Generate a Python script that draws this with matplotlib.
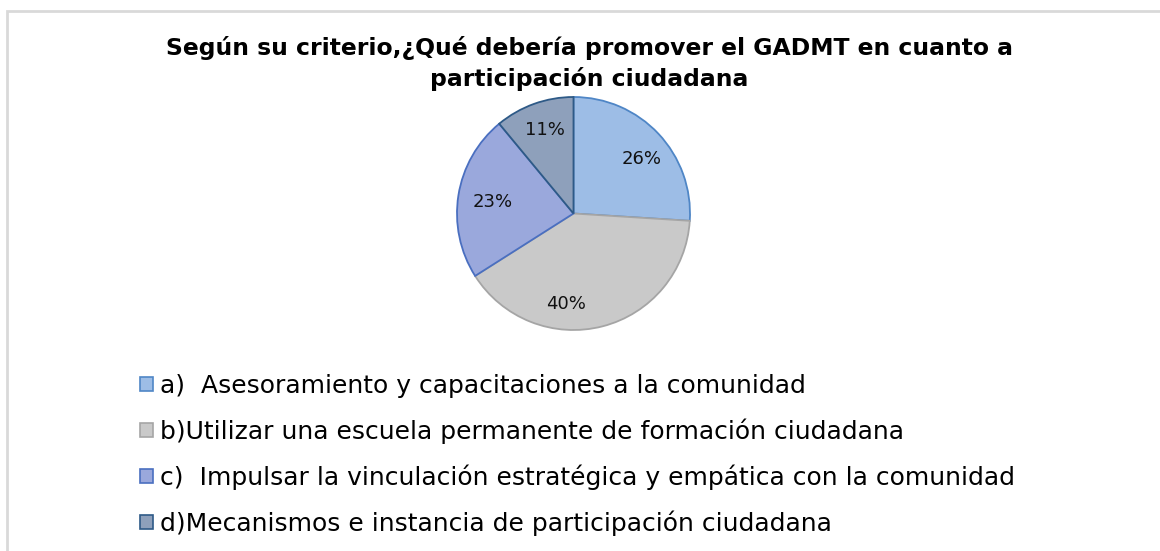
import matplotlib
matplotlib.use("Agg")
import matplotlib.pyplot as plt
from matplotlib.patches import Rectangle

titulo = "Según su criterio,¿Qué debería promover el GADMT en cuanto a\nparticipación ciudadana"
etiquetas = ["a)  Asesoramiento y capacitaciones a la comunidad",
             "b)Utilizar una escuela permanente de formación ciudadana",
             "c)  Impulsar la vinculación estratégica y empática con la comunidad",
             "d)Mecanismos e instancia de participación ciudadana"]
valores = [26, 40, 23, 11]
colores = ["#9dbde6", "#c9c9c9", "#9aa8dc", "#8ea0bb"]
bordes = ["#4f86c6", "#a5a5a5", "#4a6fc0", "#2e5a87"]

fig = plt.figure(figsize=(11.6, 5.51), dpi=100)

# marco gris del grafico
fig.patches.append(Rectangle((6.5 / 1160, -0.1), 1.2, (551 - 10.5) / 551 + 0.1,
                             transform=fig.transFigure, fill=False,
                             edgecolor="#d9d9d9", linewidth=2))

fig.text(589 / 1160, 1 - 63.5 / 551, titulo, ha="center", va="center", fontsize=16.9,
         fontweight="bold", linespacing=1.42)

ax = fig.add_axes([457 / 1160, (551 - 330) / 551, 233 / 1160, 233 / 551])
wedges, textos = ax.pie(valores, colors=colores, startangle=90, counterclock=False,
                        labels=None, wedgeprops=dict(linewidth=1.3))
for w, b in zip(wedges, bordes):
    w.set_edgecolor(b)
ax.set_xlim(-1, 1)
ax.set_ylim(-1, 1)

# etiquetas de porcentaje
pos = [(0.585, 0.465), (-0.065, -0.78), (-0.695, 0.10), (-0.245, 0.72)]
for v, (x, y) in zip(valores, pos):
    ax.text(x, y, "%d%%" % v, ha="center", va="center", fontsize=13, color="#111111")

handles = [Rectangle((0, 0), 1, 1, facecolor=c, edgecolor=b, linewidth=1.2)
           for c, b in zip(colores, bordes)]
fig.legend(handles, etiquetas, loc="upper left", bbox_to_anchor=(130 / 1160, 1 - 364 / 551),
           frameon=False, fontsize=18, handlelength=0.5, handleheight=0.5,
           handletextpad=0.3, labelspacing=0.82, borderaxespad=0)

fig.savefig("out.png", dpi=100, facecolor="white")
